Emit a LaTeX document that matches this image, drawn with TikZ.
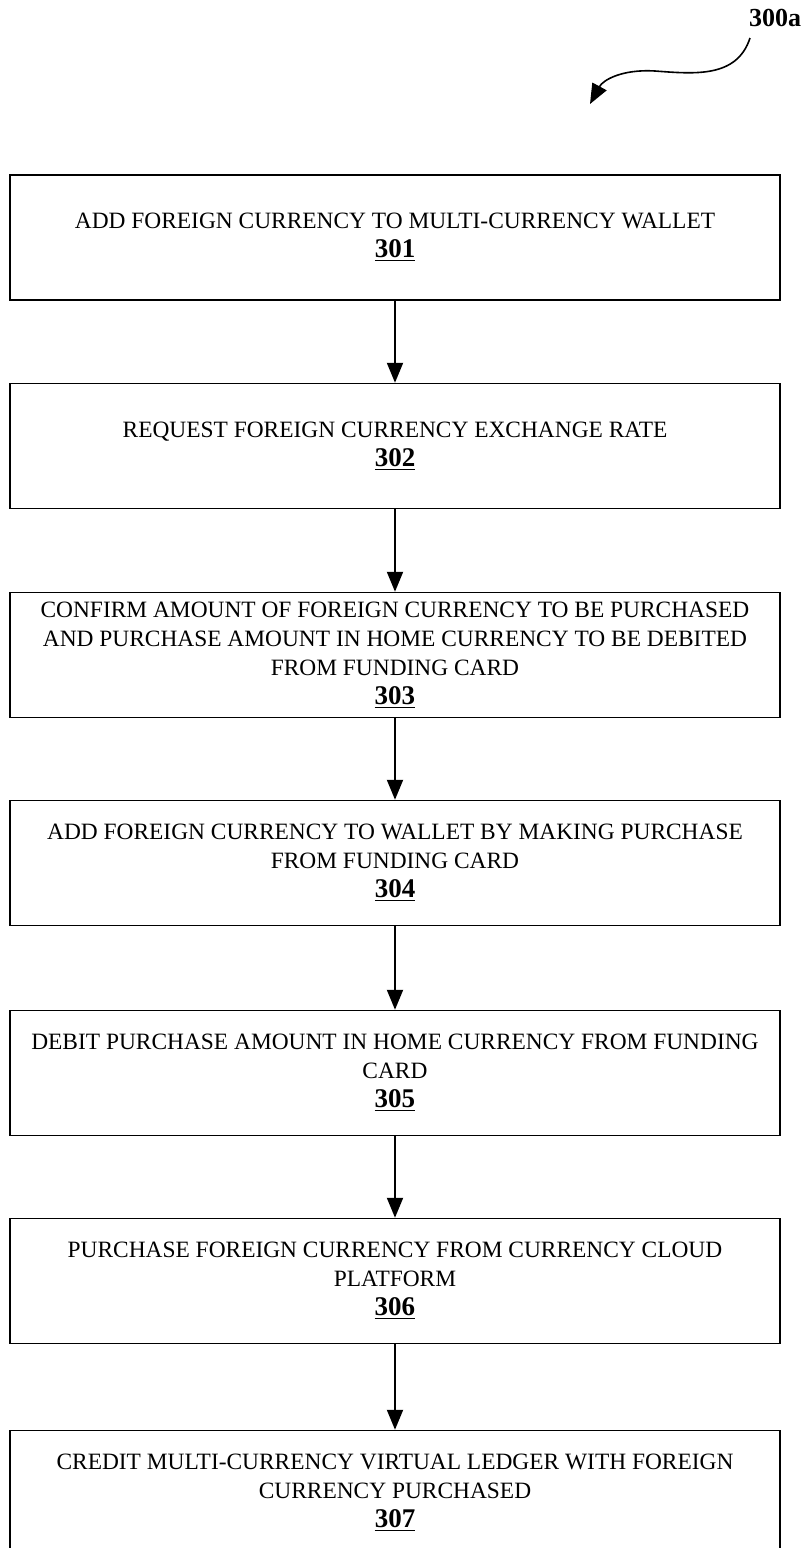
\documentclass[tikz,border=0pt]{standalone}
\usepackage{fontspec}
\setmainfont{Liberation Serif}
\usetikzlibrary{arrows.meta}

\newcommand{\stepno}[1]{{\fontsize{13.5}{14.5}\selectfont\underline{\textbf{#1}}}}

\begin{document}
\begin{tikzpicture}[x=0.5pt,y=-0.5pt]
            \tikzstyle{every node}+=[inner sep=0pt]
            \tikzstyle{stepbox}=[draw, line width=0.75pt, minimum width=385pt, minimum height=62.5pt, align=center, font=\fontsize{11.7}{14.5}\selectfont]
            \tikzstyle{flow}=[line width=1pt, -{Triangle[length=10pt,width=8pt]}]
            \useasboundingbox (0,0) rectangle (803,1548);
            % figure reference
            \node (fig) at (775,18) {\fontsize{13}{14}\selectfont\textbf{300a}};
            \coordinate (tip) at (590,104);
            \draw [flow, line width=0.8pt] (750,38) .. controls (737,78) and (695,74) .. (655,71) .. controls (622,69) and (603,80) .. (tip);
            % steps
            \node [stepbox] (b301) at (395,237.5) {ADD FOREIGN CURRENCY TO MULTI-CURRENCY WALLET\\ \stepno{301}};
            \node [stepbox] (b302) at (395,446) {REQUEST FOREIGN CURRENCY EXCHANGE RATE\\ \stepno{302}};
            \node [stepbox] (b303) at (395,655) {CONFIRM AMOUNT OF FOREIGN CURRENCY TO BE PURCHASED\\ AND PURCHASE AMOUNT IN HOME CURRENCY TO BE DEBITED\\ FROM FUNDING CARD\\ \stepno{303}};
            \node [stepbox] (b304) at (395,863) {ADD FOREIGN CURRENCY TO WALLET BY MAKING PURCHASE\\ FROM FUNDING CARD\\ \stepno{304}};
            \node [stepbox] (b305) at (395,1073) {DEBIT PURCHASE AMOUNT IN HOME CURRENCY FROM FUNDING\\ CARD\\ \stepno{305}};
            \node [stepbox] (b306) at (395,1281) {PURCHASE FOREIGN CURRENCY FROM CURRENCY CLOUD\\ PLATFORM\\ \stepno{306}};
            \node [stepbox] (b307) at (395,1493) {CREDIT MULTI-CURRENCY VIRTUAL LEDGER WITH FOREIGN\\ CURRENCY PURCHASED\\ \stepno{307}};
            % connectors
            \draw [flow] (b301) -- (b302);
            \draw [flow] (b302) -- (b303);
            \draw [flow] (b303) -- (b304);
            \draw [flow] (b304) -- (b305);
            \draw [flow] (b305) -- (b306);
            \draw [flow] (b306) -- (b307);
\end{tikzpicture}
\end{document}
